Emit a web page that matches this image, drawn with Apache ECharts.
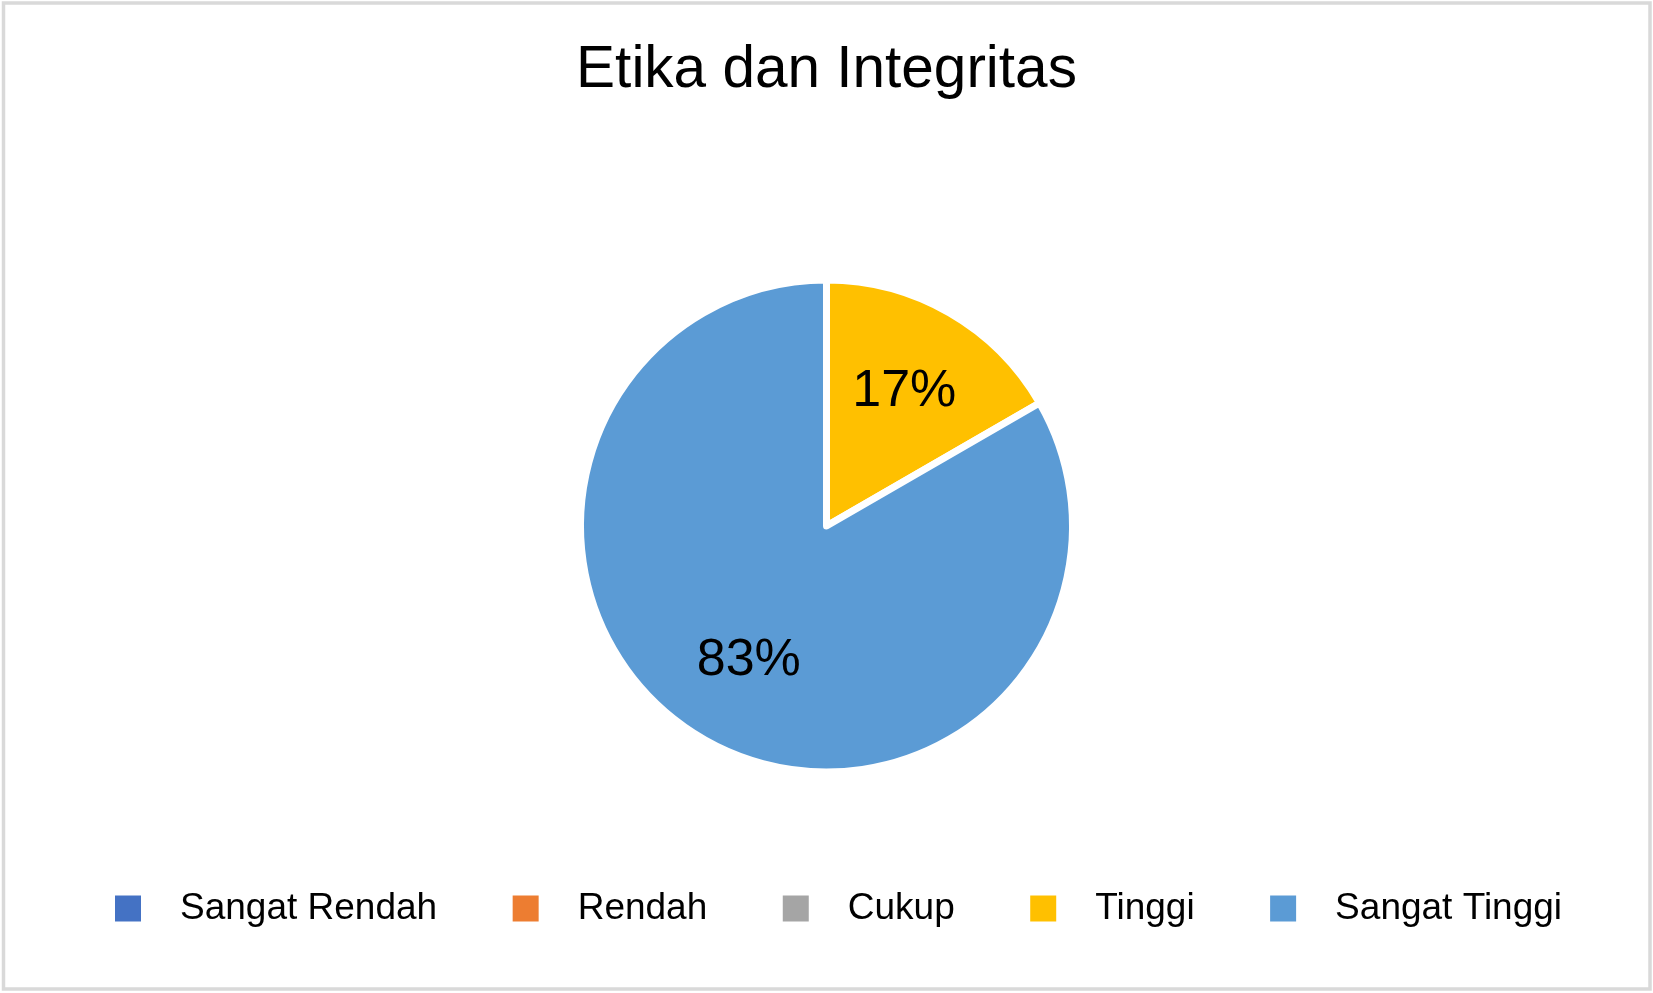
<!DOCTYPE html>
<html>
<head>
<meta charset="utf-8">
<title>Etika dan Integritas</title>
<script src="https://cdn.jsdelivr.net/npm/echarts@6/dist/echarts.min.js"></script>
<style>
  html, body { margin: 0; padding: 0; background: #fff; }
  #chart { width: 1653px; height: 993px; }
</style>
</head>
<body>
<div id="chart"></div>
<script>
// -----------------------------------------------------------------------------
// Data
// -----------------------------------------------------------------------------
const categories = ["Sangat Rendah", "Rendah", "Cukup", "Tinggi", "Sangat Tinggi"];
const counts = [0, 0, 0, 1, 5];
const colors = ["#4472C4", "#ED7D31", "#A5A5A5", "#FFC000", "#5B9BD5"];

const FONT = "'Liberation Sans', Arial, sans-serif";

const pieData = categories.map((name, i) => ({
  name,
  value: counts[i],
  itemStyle: { color: colors[i] },
}));

// -----------------------------------------------------------------------------
// Chart
// -----------------------------------------------------------------------------
const myChart = echarts.init(document.getElementById("chart"), null, { renderer: "canvas" });

const option = {
  backgroundColor: "#fff",
  animation: false,
  title: {
    text: "Etika dan Integritas",
    left: "center",
    top: 41,
    padding: 0,
    textStyle: { fontFamily: FONT, fontSize: 58.5, fontWeight: "normal", color: "#000" },
  },
  legend: {
    data: categories,
    orient: "horizontal",
    left: 113,
    top: 890,
    padding: 0,
    itemWidth: 28,
    itemHeight: 28,
    itemGap: 73.5,
    icon: "rect",
    textStyle: {
      fontFamily: FONT,
      fontSize: 37,
      color: "#000",
      padding: [0, 0, 0, 33],
    },
  },
  graphic: [
    {
      type: "rect",
      silent: true,
      shape: { x: 3.5, y: 3, width: 1646.5, height: 986 },
      style: { fill: "none", stroke: "#d9d9d9", lineWidth: 3.5 },
    },
  ],
  series: [
    {
      // filled slices
      type: "pie",
      center: [826.5, 526],
      radius: 246,
      startAngle: 90,
      clockwise: true,
      avoidLabelOverlap: false,
      label: { show: false },
      labelLine: { show: false },
      itemStyle: { borderColor: "#fff", borderWidth: 7 },
      emphasis: { disabled: true },
      data: pieData,
    },
    {
      // transparent ring only to place percentage labels further out
      type: "pie",
      silent: true,
      center: [826.5, 526],
      radius: [59, 246],
      startAngle: 90,
      clockwise: true,
      avoidLabelOverlap: false,
      itemStyle: { color: "transparent", borderWidth: 0 },
      label: {
        show: true,
        position: "inner",
        fontFamily: FONT,
        fontSize: 52,
        color: "#000",
        formatter: (p) => (p.value > 0 ? `${Math.round(p.percent)}%` : ""),
      },
      labelLine: { show: false },
      emphasis: { disabled: true },
      data: categories.map((name, i) => ({ name, value: counts[i] })),
    },
  ],
};

myChart.setOption(option);
window.addEventListener("resize", () => myChart.resize());
</script>
</body>
</html>
